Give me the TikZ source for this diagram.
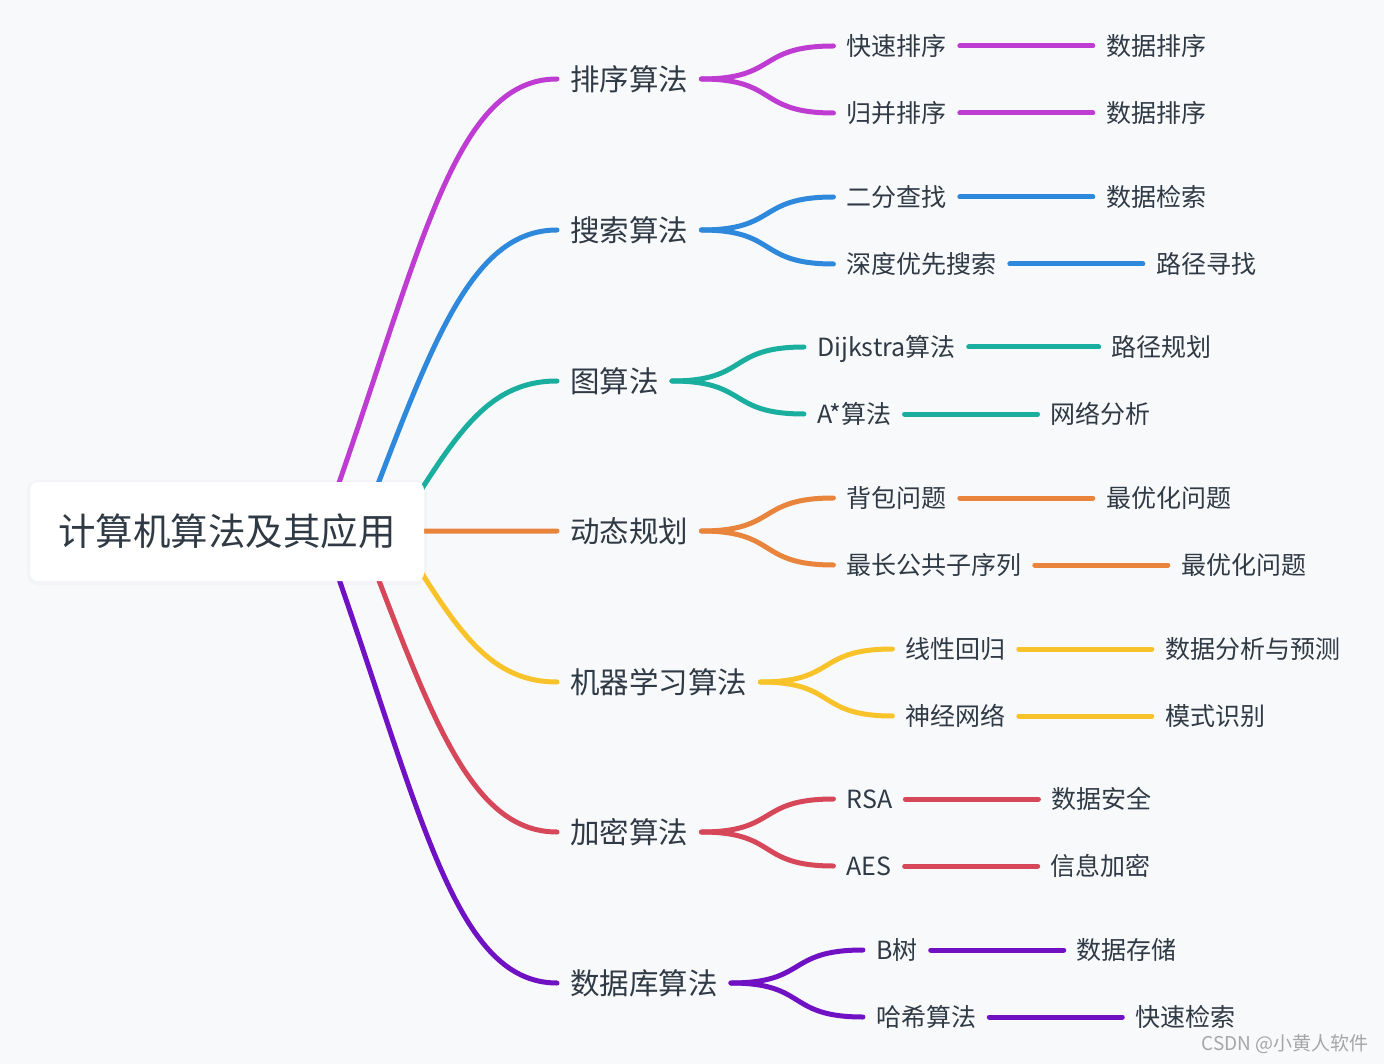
\documentclass[tikz,border=0pt]{standalone}
\usepackage{fontspec}
\setmainfont{Noto Sans CJK SC}
\usetikzlibrary{positioning,calc}
\definecolor{bgc}{HTML}{F8F9FB}
\definecolor{txt}{HTML}{2F3A45}
\definecolor{cA}{HTML}{BE3CD2}
\definecolor{cB}{HTML}{2E88DC}
\definecolor{cC}{HTML}{1AAE9F}
\definecolor{cD}{HTML}{E8843C}
\definecolor{cE}{HTML}{F8C32A}
\definecolor{cF}{HTML}{D54759}
\definecolor{cG}{HTML}{7012C4}
\definecolor{wmc}{HTML}{A6A6A6}
\definecolor{shd}{HTML}{F3F4F7}
\pgfdeclarelayer{bg}
\pgfdeclarelayer{lines}
\pgfsetlayers{bg,lines,main}
\begin{document}
\begin{tikzpicture}[x=1pt,y=-1pt,
  rootbox/.style={rectangle, fill=white, rounded corners=8pt, minimum width=394pt, minimum height=99pt,
    font=\fontsize{37.5}{40}\selectfont, text=txt, inner sep=0pt},
  lv1/.style={font=\fontsize{29.5}{32}\selectfont, text=txt, inner xsep=13pt, inner ysep=0pt,
    text height=24.5pt, text depth=2pt, anchor=west},
  lv2/.style={font=\fontsize{25}{27}\selectfont, text=txt, inner xsep=13pt, inner ysep=0pt,
    text height=20.75pt, text depth=1.75pt, anchor=west},
  branch/.style={line width=5pt, line cap=round},
]
\begin{pgfonlayer}{bg}
\fill[bgc] (0,0) rectangle (1384,1064);
\end{pgfonlayer}
\useasboundingbox (0,0) rectangle (1384,1064);

% root
\node[rootbox] (root) at (227,531.5) {计算机算法及其应用};
\coordinate (r1) at (322,531);
\coordinate (r2) at (360,531);
\coordinate (r3) at (395,531);
\begin{pgfonlayer}{bg}
\fill[shd, rounded corners=11pt] ($(root.south west)+(-3,4)$) rectangle ($(root.north east)+(3,-2)$);
\end{pgfonlayer}

% level 1
\node[lv1] (k1) at (557,79)  {排序算法};
\node[lv1] (k2) at (557,230) {搜索算法};
\node[lv1] (k3) at (557,381) {图算法};
\node[lv1] (k4) at (557,531) {动态规划};
\node[lv1] (k5) at (557,682) {机器学习算法};
\node[lv1] (k6) at (557,832) {加密算法};
\node[lv1] (k7) at (557,983) {数据库算法};

% level 2
\node[lv2] (l11) at ($(k1.east)+(132,-33)$) {快速排序};
\node[lv2] (l12) at ($(k1.east)+(132,34)$)  {归并排序};
\node[lv2] (l21) at ($(k2.east)+(132,-33)$) {二分查找};
\node[lv2] (l22) at ($(k2.east)+(132,34)$)  {深度优先搜索};
\node[lv2] (l31) at ($(k3.east)+(132,-34)$) {Dijkstra算法};
\node[lv2] (l32) at ($(k3.east)+(132,33)$)  {A*算法};
\node[lv2] (l41) at ($(k4.east)+(132,-33)$) {背包问题};
\node[lv2] (l42) at ($(k4.east)+(132,34)$)  {最长公共子序列};
\node[lv2] (l51) at ($(k5.east)+(132,-33)$) {线性回归};
\node[lv2] (l52) at ($(k5.east)+(132,34)$)  {神经网络};
\node[lv2] (l61) at ($(k6.east)+(132,-33)$) {RSA};
\node[lv2] (l62) at ($(k6.east)+(132,34)$)  {AES};
\node[lv2] (l71) at ($(k7.east)+(132,-33)$) {B树};
\node[lv2] (l72) at ($(k7.east)+(132,34)$)  {哈希算法};

% level 3
\node[lv2, right=133pt of l11] (m11) {数据排序};
\node[lv2, right=133pt of l12] (m12) {数据排序};
\node[lv2, right=133pt of l21] (m21) {数据检索};
\node[lv2, right=133pt of l22] (m22) {路径寻找};
\node[lv2, right=130pt of l31] (m31) {路径规划};
\node[lv2, right=133pt of l32] (m32) {网络分析};
\node[lv2, right=133pt of l41] (m41) {最优化问题};
\node[lv2, right=133pt of l42] (m42) {最优化问题};
\node[lv2, right=133pt of l51] (m51) {数据分析与预测};
\node[lv2, right=133pt of l52] (m52) {模式识别};
\node[lv2, right=133pt of l61] (m61) {数据安全};
\node[lv2, right=133pt of l62] (m62) {信息加密};
\node[lv2, right=133pt of l71] (m71) {数据存储};
\node[lv2, right=133pt of l72] (m72) {快速检索};

\begin{pgfonlayer}{lines}
% root -> level 1
\draw[branch,cA] (r1) .. controls +(97.6,-271) and +(-106,0) .. (k1.west);
\draw[branch,cB] (r2) .. controls +(69.7,-181) and +(-88,0) .. (k2.west);
\draw[branch,cC] (r3) .. controls +(57.6,-90) and +(-73,0) .. (k3.west);
\draw[branch,cD] (root.center) -- (k4.west);
\draw[branch,cE] (r3) .. controls +(57.6,90) and +(-73,0) .. (k5.west);
\draw[branch,cF] (r2) .. controls +(69.7,181) and +(-88,0) .. (k6.west);
\draw[branch,cG] (r1) .. controls +(97.6,271) and +(-106,0) .. (k7.west);
% level 1 -> level 2 -> level 3
\foreach \k/\c in {1/cA,2/cB,3/cC,4/cD,5/cE,6/cF,7/cG}{
  \draw[branch,\c] (k\k.east) .. controls +(77,0) and +(-77,0) .. (l\k1.west);
  \draw[branch,\c] (k\k.east) .. controls +(77,0) and +(-77,0) .. (l\k2.west);
  \draw[branch,\c] (l\k1.east) -- (m\k1.west);
  \draw[branch,\c] (l\k2.east) -- (m\k2.west);
}
\end{pgfonlayer}

\node[font=\fontsize{19}{21}\selectfont, text=wmc, anchor=east, inner sep=0pt] (wm) at (1369,1044) {CSDN @小黄人软件};
\end{tikzpicture}
\end{document}
